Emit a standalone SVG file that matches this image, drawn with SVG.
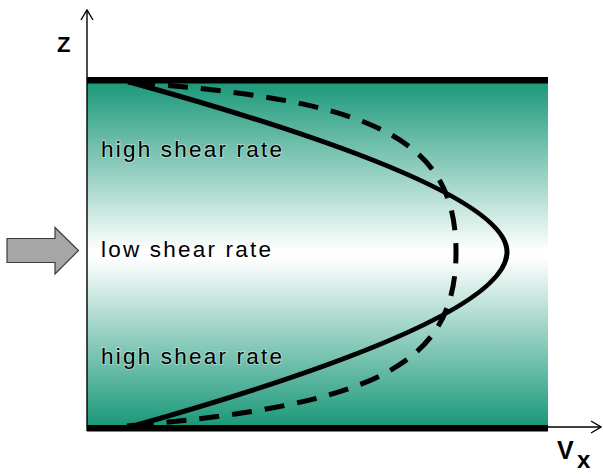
<svg xmlns="http://www.w3.org/2000/svg" width="603" height="474" viewBox="0 0 603 474">
  <defs>
    <linearGradient id="flow" x1="0" y1="83" x2="0" y2="425" gradientUnits="userSpaceOnUse">
      <stop offset="0" stop-color="#1c997a"/>
      <stop offset="0.49" stop-color="#ffffff"/>
      <stop offset="0.51" stop-color="#ffffff"/>
      <stop offset="1" stop-color="#1c997a"/>
    </linearGradient>
    <marker id="open" viewBox="0 0 12 14" refX="11" refY="7" markerWidth="12" markerHeight="14" markerUnits="userSpaceOnUse" orient="auto">
      <path d="M1,1 L11,7 L1,13" fill="none" stroke="#000" stroke-width="1.4"/>
    </marker>
  </defs>
  <style>
    .lbl { font-family: "Liberation Sans", Arial, sans-serif; font-size: 22.5px; letter-spacing: 2.2px; fill: #000; stroke: rgba(255,255,255,0.35); stroke-width: 2; paint-order: stroke; }
    .ax { font-family: "Liberation Sans", Arial, sans-serif; font-weight: bold; fill: #000; }
    .wall { fill: #000; }
    .axis { stroke: #000; stroke-width: 1.4; fill: none; }
    .solid { fill: none; stroke: #000; stroke-width: 5; }
    .dash { fill: none; stroke: #000; stroke-width: 5; stroke-dasharray: 20 13; }
  </style>

  <g id="channel">
    <rect x="87" y="83" width="461" height="342" fill="url(#flow)"/>
    <rect class="wall" x="87" y="77" width="461" height="6.5"/>
    <rect class="wall" x="87" y="425" width="461" height="6.5"/>
  </g>

  <g id="profiles">
    <path class="dash" d="M135,83 C380,100 456,142 456,252 C456,362 380,404 137,425"/>
    <path class="solid" d="M128,82 L133,83 Q507,187 507,252 Q507,320 137,425 L127,426"/>
  </g>

  <g id="axes">
    <line class="axis" x1="87" y1="431" x2="87" y2="10" marker-end="url(#open)"/>
    <line class="axis" x1="548" y1="427" x2="601" y2="427" marker-end="url(#open)"/>
    <text class="ax" x="57" y="52" font-size="22">Z</text>
    <text class="ax" x="557" y="459" font-size="25">V</text>
    <text class="ax" x="577" y="468" font-size="24">x</text>
  </g>

  <g id="inlet-arrow">
    <polygon points="7,238.5 55,238.5 55,227.5 78.5,250.5 55,274 55,262.5 7,262.5" fill="#a6a6a6" stroke="#3c3c3c" stroke-width="1.2"/>
  </g>

  <g id="labels">
    <text class="lbl" x="101" y="157">high shear rate</text>
    <text class="lbl" x="101" y="257">low shear rate</text>
    <text class="lbl" x="101" y="364">high shear rate</text>
  </g>
</svg>
